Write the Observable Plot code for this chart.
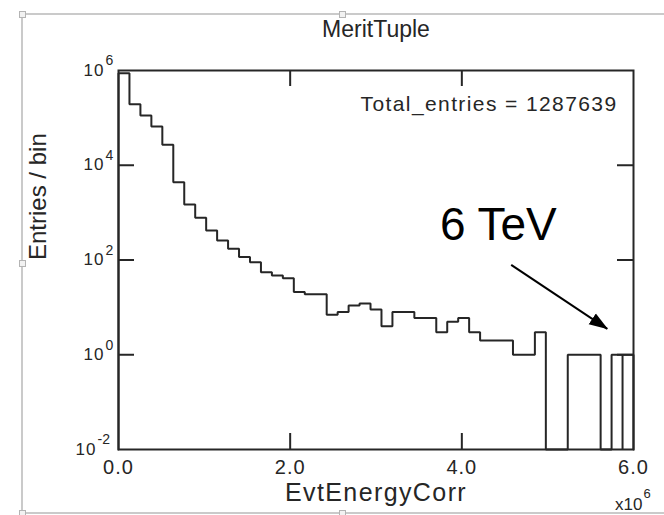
<!DOCTYPE html>
<html>
<head>
<meta charset="utf-8">
<script src="https://cdn.jsdelivr.net/npm/d3@7"></script>
<script src="https://cdn.jsdelivr.net/npm/@observablehq/plot@0.6"></script>
<style>
html, body { margin: 0; padding: 0; background: #fff; overflow: hidden; }
#wrap { position: relative; width: 664px; height: 515px; }
#box { position: absolute; left: 21px; top: 13px; width: 680px; height: 501px; border: 2px solid #cacaca; box-sizing: border-box; }
.h { position: absolute; width: 7px; height: 7px; border: 1px solid #b4b4b4; background: #f2f2f2; box-sizing: border-box; }
#chart { position: absolute; left: 0; top: 0; }
text[aria-label="entries-note"] { letter-spacing: 1.4px; }
text[aria-label="x-title"] { letter-spacing: 1.4px; }
text[aria-label="x-tick-labels"] { letter-spacing: 1px; }
text[aria-label="y-tick-base"] { letter-spacing: 1px; }
</style>
</head>
<body>
<div id="wrap">
  <div id="box"></div>
  <div class="h" style="left:19px;top:11px"></div>
  <div class="h" style="left:339px;top:11px"></div>
  <div class="h" style="left:19px;top:260px"></div>
  <div class="h" style="left:19px;top:510px"></div>
  <div class="h" style="left:339px;top:510px"></div>
  <div id="chart"></div>
</div>
<script>
// ---- data ----
const titleText = "MeritTuple";
const xLabel = "EvtEnergyCorr";
const yLabel = "Entries / bin";
const totalEntries = 1287639;
const xRange = [0, 6e6];
const yFloor = 1e-2;
const yTop = 1e6;
const counts = [879614, 195000, 112000, 66000, 27000, 4400, 1480, 777, 420, 257,
  172, 115, 90, 55, 47, 41, 21, 19, 19, 7,
  8, 11, 12, 9, 4, 8, 8, 6, 6, 3,
  5, 6, 3, 2, 2, 2, 1, 1, 3, 0,
  0, 1, 1, 1, 0, 1, 1];
const dividerBins = [46];
const xTickValues = [0, 2e6, 4e6, 6e6];
const xTickLabels = ["0.0", "2.0", "4.0", "6.0"];
const xInnerTicks = [2e6, 4e6];
const yTickExps = [-2, 0, 2, 4, 6];
const yInnerTicks = [1, 1e2, 1e4];
const xMultiplierBase = "x10";
const xMultiplierExp = "6";
const noteText = ["6 TeV"];
const noteX = [4.425e6];
const noteY = [258];
const arrowFrom = [{x: 4.575e6, y: 79}];
const arrowTo = [{x: 5.694e6, y: 3.53}];

// ---- derived tables ----
const binW = (xRange[1] - xRange[0]) / counts.length;
const outline = [{x: xRange[0], y: yFloor}];
counts.forEach((c, i) => {
  const v = c > 0 ? c : yFloor;
  outline.push({x: xRange[0] + i * binW, y: v}, {x: xRange[0] + (i + 1) * binW, y: v});
});
outline.push({x: xRange[1], y: yFloor});
const notes = noteText.map((t, i) => ({text: t, x: noteX[i], y: noteY[i]}));
const arrows = arrowFrom.map((a, i) => ({x1: a.x, y1: a.y, x2: arrowTo[i].x, y2: arrowTo[i].y}));

const ink = "#262626";
const font = "'Liberation Sans', Arial, Helvetica, sans-serif";

const W = 664, H = 515, mL = 118, mR = 31, mT = 70, mB = 66;
const tickLen = 16;
const frameW = W - mL - mR, frameH = H - mT - mB;

function triangleMarker(color) {
  const m = d3.create("svg:marker")
    .attr("viewBox", "0 -7 19 14")
    .attr("markerWidth", 19).attr("markerHeight", 14)
    .attr("markerUnits", "userSpaceOnUse")
    .attr("refX", 18).attr("refY", 0)
    .attr("orient", "auto");
  m.append("path").attr("d", "M0,-6.5L19,0L0,6.5Z").attr("fill", color).attr("stroke", "none");
  return m.node();
}

const tag = (name) => () => name;

const chart = Plot.plot({
  width: W,
  height: H,
  marginLeft: mL,
  marginRight: mR,
  marginTop: mT,
  marginBottom: mB,
  style: {fontFamily: font, background: "transparent", color: ink},
  x: {domain: xRange, axis: null},
  y: {type: "log", domain: [yFloor, yTop], axis: null},
  marks: [
    // histogram outline
    Plot.line(outline, {x: "x", y: "y", stroke: ink, strokeWidth: 2, strokeLinejoin: "miter"}),
    Plot.ruleX(dividerBins, {x: (i) => xRange[0] + i * binW, y1: yFloor, y2: (i) => counts[i], stroke: ink, strokeWidth: 2}),
    Plot.frame({stroke: ink, strokeWidth: 2}),
    // inward ticks
    Plot.ruleX(xInnerTicks, {x: (d) => d, insetTop: frameH - tickLen, stroke: ink, strokeWidth: 2}),
    Plot.ruleX(xInnerTicks, {x: (d) => d, insetBottom: frameH - tickLen, stroke: ink, strokeWidth: 2}),
    Plot.ruleY(yInnerTicks, {y: (d) => d, insetRight: frameW - tickLen, stroke: ink, strokeWidth: 2}),
    Plot.ruleY(yInnerTicks, {y: (d) => d, insetLeft: frameW - tickLen, stroke: ink, strokeWidth: 2}),
    // x tick labels
    Plot.text(xTickValues, {x: (d) => d, text: (d, i) => xTickLabels[i], frameAnchor: "bottom", lineAnchor: "top", dy: 10, fontSize: 20, fill: ink, ariaLabel: tag("x-tick-labels")}),
    // y tick labels: "10" + exponent
    Plot.text(yTickExps.filter((e) => e >= 0), {y: (e) => 10 ** e, text: () => "10", frameAnchor: "left", textAnchor: "end", lineAnchor: "bottom", dx: -14, dy: 5, fontSize: 17, fill: ink, ariaLabel: tag("y-tick-base")}),
    Plot.text(yTickExps.filter((e) => e >= 0), {y: (e) => 10 ** e, text: (e) => String(e), frameAnchor: "left", textAnchor: "start", lineAnchor: "top", dx: -13, dy: -15, fontSize: 14, fill: ink}),
    Plot.text(yTickExps.filter((e) => e < 0), {y: (e) => 10 ** e, text: () => "10", frameAnchor: "left", textAnchor: "end", lineAnchor: "bottom", dx: -22, dy: 5, fontSize: 17, fill: ink, ariaLabel: tag("y-tick-base")}),
    Plot.text(yTickExps.filter((e) => e < 0), {y: (e) => 10 ** e, text: (e) => String(e), frameAnchor: "left", textAnchor: "start", lineAnchor: "top", dx: -21, dy: -15, fontSize: 14, fill: ink}),
    // multiplier x10^6
    Plot.text([xMultiplierBase], {text: (d) => d, frameAnchor: "bottom-right", textAnchor: "end", lineAnchor: "bottom", dx: 9, dy: 60, fontSize: 17, fill: ink}),
    Plot.text([xMultiplierExp], {text: (d) => d, frameAnchor: "bottom-right", textAnchor: "start", lineAnchor: "top", dx: 10, dy: 39, fontSize: 13, fill: ink}),
    // titles
    Plot.text([titleText], {text: (d) => d, frameAnchor: "top", lineAnchor: "bottom", dy: -33.5, fontSize: 23, fill: ink}),
    Plot.text([xLabel], {text: (d) => d, frameAnchor: "bottom", lineAnchor: "bottom", dy: 51.5, fontSize: 25, fill: ink, ariaLabel: tag("x-title")}),
    Plot.text([yLabel], {text: (d) => d, frameAnchor: "left", rotate: -90, lineAnchor: "bottom", dx: -73, fontSize: 24, fill: ink}),
    Plot.text([`Total_entries = ${totalEntries}`], {text: (d) => d, frameAnchor: "top-right", textAnchor: "end", lineAnchor: "bottom", dx: -16, dy: 40, fontSize: 21, fill: ink, ariaLabel: tag("entries-note")}),
    // annotation
    Plot.text(notes, {x: "x", y: "y", text: "text", lineAnchor: "bottom", fontSize: 46, fill: "#000"}),
    Plot.link(arrows, {x1: "x1", y1: "y1", x2: "x2", y2: "y2", stroke: "#000", strokeWidth: 2, markerEnd: triangleMarker})
  ]
});
document.getElementById("chart").appendChild(chart);
</script>
</body>
</html>
